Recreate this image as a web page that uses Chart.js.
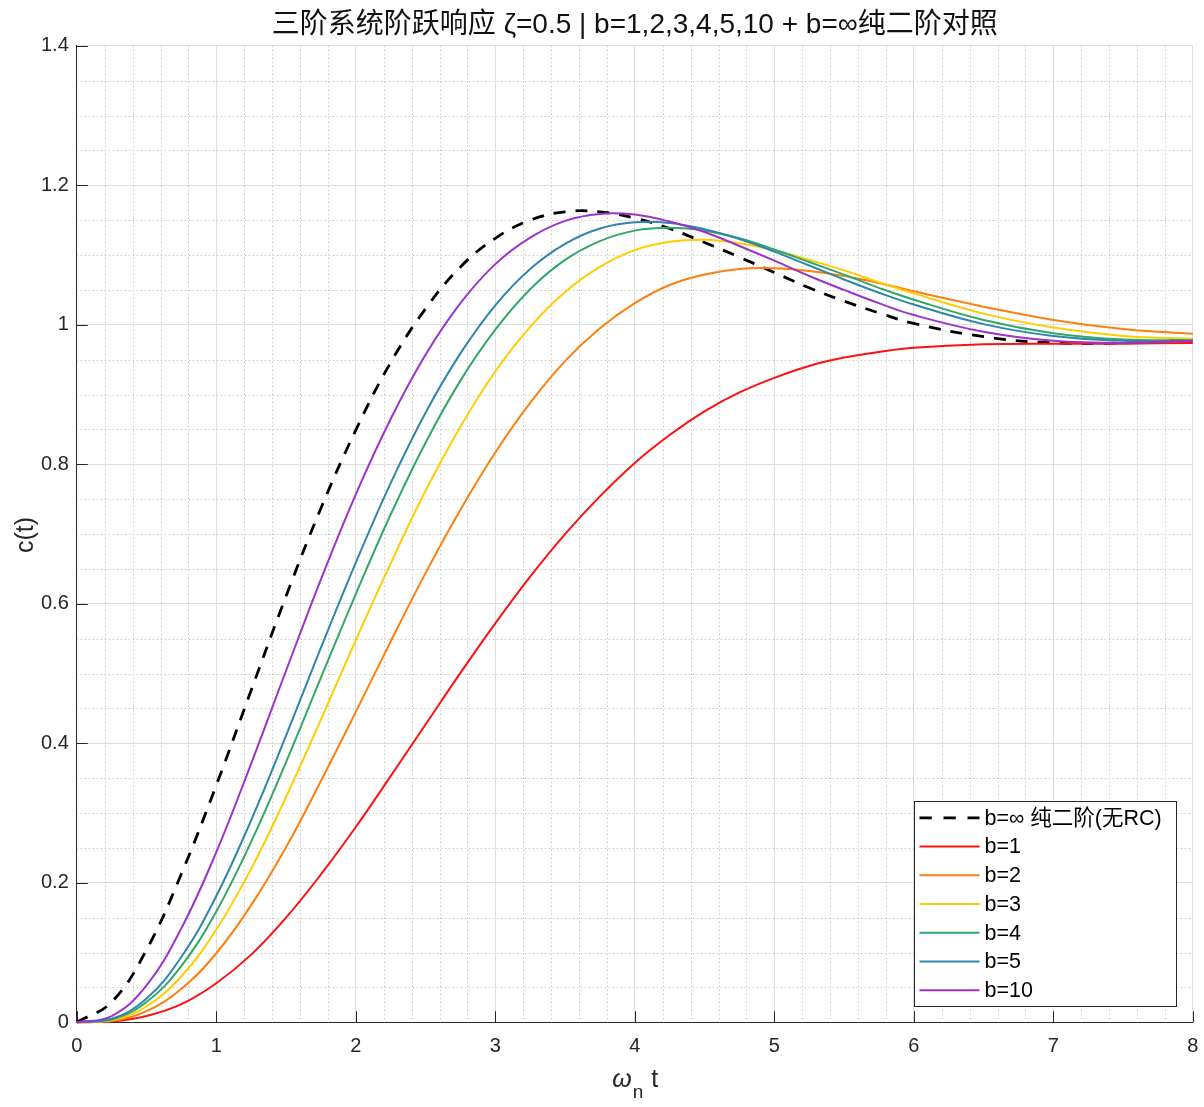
<!DOCTYPE html>
<html>
<head>
<meta charset="utf-8">
<script src="https://cdn.jsdelivr.net/npm/chart.js@4.4.1/dist/chart.umd.min.js"></script>
<style>
html,body{margin:0;padding:0;background:#ffffff;}
#wrap{width:1204px;height:1107px;position:relative;}
canvas{display:block;}
</style>
</head>
<body>
<div id="wrap"><canvas id="c" width="1204" height="1107"></canvas></div>
<script>
// ---- data ----
const tValues = [0,0.25,0.5,0.75,1,1.25,1.5,1.75,2,2.25,2.5,2.75,3,3.25,3.5,3.75,4,4.25,4.5,4.75,5,5.25,5.5,5.75,6,6.5,7,7.5,8];
const cInf = [0,0.029,0.104,0.213,0.340,0.476,0.611,0.737,0.849,0.946,1.023,1.083,1.124,1.150,1.162,1.162,1.153,1.138,1.118,1.097,1.075,1.053,1.034,1.017,1.002,0.983,0.974,0.974,0.979];
const cB1  = [0,0.001,0.009,0.026,0.056,0.097,0.150,0.212,0.280,0.353,0.427,0.501,0.572,0.639,0.700,0.754,0.802,0.842,0.876,0.903,0.924,0.941,0.953,0.961,0.967,0.972,0.973,0.973,0.974];
const cB2  = [0,0.002,0.016,0.048,0.099,0.168,0.251,0.346,0.445,0.546,0.644,0.735,0.817,0.888,0.948,0.995,1.031,1.057,1.072,1.080,1.081,1.077,1.070,1.060,1.048,1.026,1.007,0.994,0.987];
const cB3  = [0,0.003,0.023,0.066,0.133,0.220,0.323,0.434,0.548,0.658,0.762,0.854,0.933,0.997,1.047,1.083,1.107,1.119,1.122,1.117,1.107,1.093,1.078,1.061,1.045,1.016,0.996,0.984,0.980];
const cB4  = [0,0.004,0.029,0.081,0.159,0.259,0.373,0.494,0.614,0.728,0.831,0.920,0.993,1.051,1.093,1.120,1.135,1.139,1.135,1.124,1.108,1.090,1.072,1.053,1.036,1.007,0.988,0.979,0.978];
const cB5  = [0,0.005,0.034,0.094,0.181,0.290,0.411,0.537,0.659,0.773,0.874,0.959,1.028,1.080,1.116,1.138,1.147,1.146,1.137,1.123,1.105,1.085,1.065,1.046,1.029,1.001,0.984,0.977,0.977];
const cB10 = [0,0.009,0.053,0.135,0.244,0.371,0.504,0.635,0.757,0.865,0.957,1.031,1.087,1.125,1.149,1.159,1.158,1.148,1.133,1.113,1.092,1.070,1.050,1.031,1.014,0.990,0.977,0.974,0.977];

const seriesLabels = ['b=∞ 纯二阶(无RC)','b=1','b=2','b=3','b=4','b=5','b=10'];
const seriesColors = ['#000000','#FF1010','#FF7F0E','#FFCC00','#33A866','#2E86AB','#9B33CC'];
const seriesValues = [cInf, cB1, cB2, cB3, cB4, cB5, cB10];

const titleText = '三阶系统阶跃响应 ζ=0.5 | b=1,2,3,4,5,10 + b=∞纯二阶对照';
const yLabel = 'c(t)';
const xLabelMain = 'ω', xLabelSub = 'n', xLabelTail = 't';

const xMin = 0, xMax = 8, xStep = 1, xMinorStep = 0.2;
const yMin = 0, yMax = 1.4, yStep = 0.2, yMinorStep = 0.05;

const FONT = "'Liberation Sans', 'Noto Sans CJK SC', Arial, sans-serif";
const AXIS_COLOR = '#262626';

// ---- plugins ----
const gridTickPlugin = {
  id: 'gridTicks',
  beforeDatasetsDraw(chart) {
    const {ctx, chartArea: a, scales: {x, y}} = chart;
    ctx.save();
    ctx.strokeStyle = '#c4c4c4';
    ctx.lineWidth = 1;
    ctx.setLineDash([1.3, 2.7]);
    const nx = Math.round((xMax - xMin) / xMinorStep);
    const perX = Math.round(xStep / xMinorStep);
    for (let k = 1; k < nx; k++) {
      if (k % perX === 0) continue;
      const px = Math.round(x.getPixelForValue(xMin + k * xMinorStep)) + 0.5;
      ctx.beginPath(); ctx.moveTo(px, a.top); ctx.lineTo(px, a.bottom); ctx.stroke();
    }
    const ny = Math.round((yMax - yMin) / yMinorStep);
    const perY = Math.round(yStep / yMinorStep);
    for (let k = 1; k < ny; k++) {
      if (k % perY === 0) continue;
      const py = Math.round(y.getPixelForValue(yMin + k * yMinorStep)) + 0.5;
      ctx.beginPath(); ctx.moveTo(a.left, py); ctx.lineTo(a.right, py); ctx.stroke();
    }
    // inward major ticks
    ctx.setLineDash([]);
    ctx.strokeStyle = AXIS_COLOR;
    const tl = 11;
    for (let v = xMin; v <= xMax + 1e-9; v += xStep) {
      const px = Math.round(x.getPixelForValue(v)) + 0.5;
      ctx.beginPath(); ctx.moveTo(px, a.bottom); ctx.lineTo(px, a.bottom - tl); ctx.stroke();
    }
    const nyMaj = Math.round((yMax - yMin) / yStep);
    for (let k = 0; k <= nyMaj; k++) {
      const py = Math.round(y.getPixelForValue(yMin + k * yStep)) + 0.5;
      ctx.beginPath(); ctx.moveTo(a.left, py); ctx.lineTo(a.left + tl, py); ctx.stroke();
    }
    ctx.restore();
  }
};

const labelsLegendPlugin = {
  id: 'labelsLegend',
  afterDraw(chart) {
    const {ctx, chartArea: a} = chart;
    ctx.save();
    // y label
    ctx.fillStyle = AXIS_COLOR;
    ctx.font = '25px ' + FONT;
    ctx.textAlign = 'center';
    ctx.textBaseline = 'alphabetic';
    ctx.translate(33, (a.top + a.bottom) / 2 + 1);
    ctx.rotate(-Math.PI / 2);
    ctx.fillText(yLabel, 0, 0);
    ctx.restore();

    // x label (omega_n t)
    ctx.save();
    ctx.fillStyle = AXIS_COLOR;
    ctx.textBaseline = 'alphabetic';
    ctx.textAlign = 'left';
    const cx = (a.left + a.right) / 2;
    const base = a.bottom + 64.5;
    ctx.font = 'italic 25px ' + FONT;
    const wMain = ctx.measureText(xLabelMain).width;
    ctx.font = '19px ' + FONT;
    const wSub = ctx.measureText(xLabelSub).width;
    ctx.font = '25px ' + FONT;
    const wTail = ctx.measureText(xLabelTail).width;
    const gap = 8;
    const total = wMain + wSub + gap + wTail;
    let xx = cx - total / 2;
    ctx.font = 'italic 25px ' + FONT;
    ctx.fillText(xLabelMain, xx, base);
    xx += wMain + 1;
    ctx.font = '19px ' + FONT;
    ctx.fillText(xLabelSub, xx, base + 11.5);
    xx += wSub + gap;
    ctx.font = '25px ' + FONT;
    ctx.fillText(xLabelTail, xx, base);
    ctx.restore();

    // legend box
    ctx.save();
    const bw = 262, bh = 205;
    const bx = Math.round(a.right - 16.5 - bw) + 0.5;
    const by = Math.round(a.bottom - 16.3 - bh) + 0.5;
    ctx.fillStyle = '#ffffff';
    ctx.fillRect(bx, by, bw, bh);
    ctx.strokeStyle = AXIS_COLOR;
    ctx.lineWidth = 1;
    ctx.strokeRect(bx, by, bw, bh);
    const rowH = 28.75;
    chart.data.datasets.forEach((ds, i) => {
      const ry = by + 16.3 + rowH * i;
      ctx.beginPath();
      ctx.strokeStyle = ds.borderColor;
      ctx.lineWidth = ds.borderWidth;
      ctx.setLineDash(i === 0 ? [12.3, 11.7] : []);
      ctx.moveTo(bx + 5, ry);
      ctx.lineTo(bx + 65, ry);
      ctx.stroke();
      ctx.setLineDash([]);
      ctx.fillStyle = '#000000';
      ctx.font = '21.5px ' + FONT;
      ctx.textAlign = 'left';
      ctx.textBaseline = 'middle';
      ctx.fillText(ds.label, bx + 70, ry + 1);
    });
    ctx.restore();
  }
};

// ---- chart ----
const datasets = seriesValues.map((vals, i) => ({
  label: seriesLabels[i],
  data: tValues.map((t, j) => ({x: t, y: vals[j]})),
  borderColor: seriesColors[i],
  backgroundColor: seriesColors[i],
  borderWidth: i === 0 ? 2.8 : 2,
  borderDash: i === 0 ? [12, 10] : [],
  pointRadius: 0,
  pointHoverRadius: 0,
  fill: false,
  tension: 0.4,
  clip: 6,
  order: seriesValues.length - i
}));

new Chart(document.getElementById('c'), {
  type: 'line',
  data: {datasets},
  options: {
    responsive: false,
    maintainAspectRatio: false,
    animation: false,
    devicePixelRatio: 1,
    events: [],
    layout: {padding: {left: 0, right: 11.2, top: 0, bottom: 0}},
    plugins: {
      legend: {display: false},
      tooltip: {enabled: false},
      title: {
        display: true,
        text: titleText,
        fullSize: false,
        color: '#111111',
        font: {family: FONT, size: 28, weight: 'normal', lineHeight: 1.2},
        padding: {top: 8, bottom: 4.2}
      }
    },
    scales: {
      x: {
        type: 'linear',
        min: xMin, max: xMax,
        ticks: {stepSize: xStep, color: AXIS_COLOR, font: {family: FONT, size: 20}, padding: 12, maxRotation: 0},
        grid: {color: '#dedede', lineWidth: 1, drawTicks: false},
        border: {display: true, color: AXIS_COLOR, width: 1},
        afterFit(s) { s.height = 84.7; s.paddingLeft = 0; s.paddingRight = 0; }
      },
      y: {
        type: 'linear',
        min: yMin, max: yMax,
        ticks: {stepSize: yStep, color: AXIS_COLOR, font: {family: FONT, size: 20}, padding: 8,
          callback: v => String(Number(v.toFixed(2)))},
        grid: {color: '#dedede', lineWidth: 1, drawTicks: false},
        border: {display: true, color: AXIS_COLOR, width: 1},
        afterFit(s) { s.width = 76.8; s.paddingTop = 0; s.paddingBottom = 0; }
      }
    }
  },
  plugins: [gridTickPlugin, labelsLegendPlugin]
});
</script>
</body>
</html>
